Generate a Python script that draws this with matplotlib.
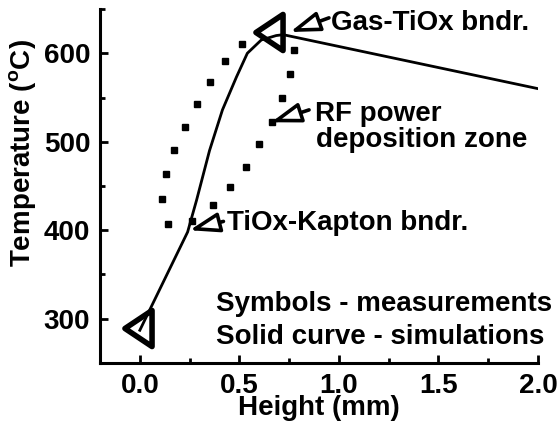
import matplotlib
matplotlib.use('Agg')
import matplotlib.pyplot as plt
from matplotlib.markers import MarkerStyle
from matplotlib.path import Path
from matplotlib.ticker import MultipleLocator

# measured boundary temperatures (open triangles)
meas_h = [-0.01, 0.65]
meas_T = [289, 624]

# simulated temperature profile (solid curve)
sim_h = [0.0, 0.24, 0.285, 0.35, 0.415, 0.485, 0.54, 0.61, 0.685, 0.72, 2.0]
sim_T = [287, 398, 434, 490, 536, 573, 600, 615, 620, 621, 560]

# RF power deposition zone outline (dotted loop)
zone_h = [0.515, 0.43, 0.35, 0.285, 0.225, 0.17, 0.13, 0.11, 0.14, 0.26,
          0.37, 0.455, 0.535, 0.60, 0.665, 0.715, 0.755, 0.775]
zone_T = [611, 591, 567, 543, 517, 491, 464, 435, 407, 411,
          428, 449, 472, 497, 522, 549, 576, 604]

plt.rcParams['font.family'] = ['Liberation Sans', 'DejaVu Sans']
plt.rcParams['font.weight'] = 'bold'
plt.rcParams['axes.labelweight'] = 'bold'
plt.rcParams['font.size'] = 20
plt.rcParams['mathtext.fontset'] = 'custom'
plt.rcParams['mathtext.rm'] = 'Liberation Sans:bold'
plt.rcParams['mathtext.bf'] = 'Liberation Sans:bold'

fig = plt.figure(figsize=(5.6, 4.21), dpi=100)
ax = fig.add_axes([0.1786, 0.1378, 0.7821, 0.8408])

# simulation
ax.plot(sim_h, sim_T, color='black', lw=2.0, zorder=2)

# dotted zone outline
ax.plot(zone_h, zone_T, ls='none', marker='s', ms=5, color='black', zorder=2)

# measurements: narrow left-pointing open triangles
tri = Path([(-0.75, 0), (0.75, 1), (0.75, -1), (-0.75, 0)],
           [Path.MOVETO, Path.LINETO, Path.LINETO, Path.CLOSEPOLY])
ax.plot(meas_h, meas_T, ls='none', marker=MarkerStyle(tri, joinstyle='miter'),
        ms=26, mfc='none', mec='black', mew=4, zorder=3)

# annotation arrows
arrow = dict(arrowstyle='-|>,head_length=0.9,head_width=0.3', fc='white',
             ec='black', lw=2.6, mutation_scale=20, shrinkA=0, shrinkB=0)
ax.annotate('', xy=(0.755, 624), xytext=(0.95, 640), arrowprops=arrow)
ax.annotate('', xy=(0.66, 522), xytext=(0.85, 536), arrowprops=arrow)
ax.annotate('', xy=(0.25, 400), xytext=(0.42, 410), arrowprops=arrow)

ax.text(0.96, 626, 'Gas-TiOx bndr.', va='baseline', ha='left')
ax.text(0.88, 524, 'RF power', va='baseline', ha='left')
ax.text(0.885, 494, 'deposition zone', va='baseline', ha='left')
ax.text(0.44, 400, 'TiOx-Kapton bndr.', va='baseline', ha='left')
ax.text(0.385, 309, 'Symbols - measurements', va='baseline', ha='left')
ax.text(0.385, 272, 'Solid curve - simulations', va='baseline', ha='left')

ax.set_xlim(-0.2, 2.0)
ax.set_ylim(250, 650)
ax.xaxis.set_major_locator(MultipleLocator(0.5))
ax.xaxis.set_minor_locator(MultipleLocator(0.25))
ax.yaxis.set_major_locator(MultipleLocator(100))
ax.yaxis.set_minor_locator(MultipleLocator(50))
ax.set_xticks([0.0, 0.5, 1.0, 1.5, 2.0])
ax.set_xticklabels(['0.0', '0.5', '1.0', '1.5', '2.0'])

for s in ['top', 'right']:
    ax.spines[s].set_visible(False)
for s in ['left', 'bottom']:
    ax.spines[s].set_linewidth(2.2)

ax.tick_params(which='major', direction='in', length=6, width=2, pad=7)
ax.tick_params(axis='x', which='major', pad=7.5)
ax.tick_params(which='minor', direction='in', length=3.5, width=2)

ax.set_xlabel('Height (mm)', labelpad=-3.5)
ax.set_ylabel(r'Temperature ($^{\rm o}$C)')
ax.yaxis.set_label_coords(-0.14, 0.593)

fig.savefig('out.png', dpi=100)
